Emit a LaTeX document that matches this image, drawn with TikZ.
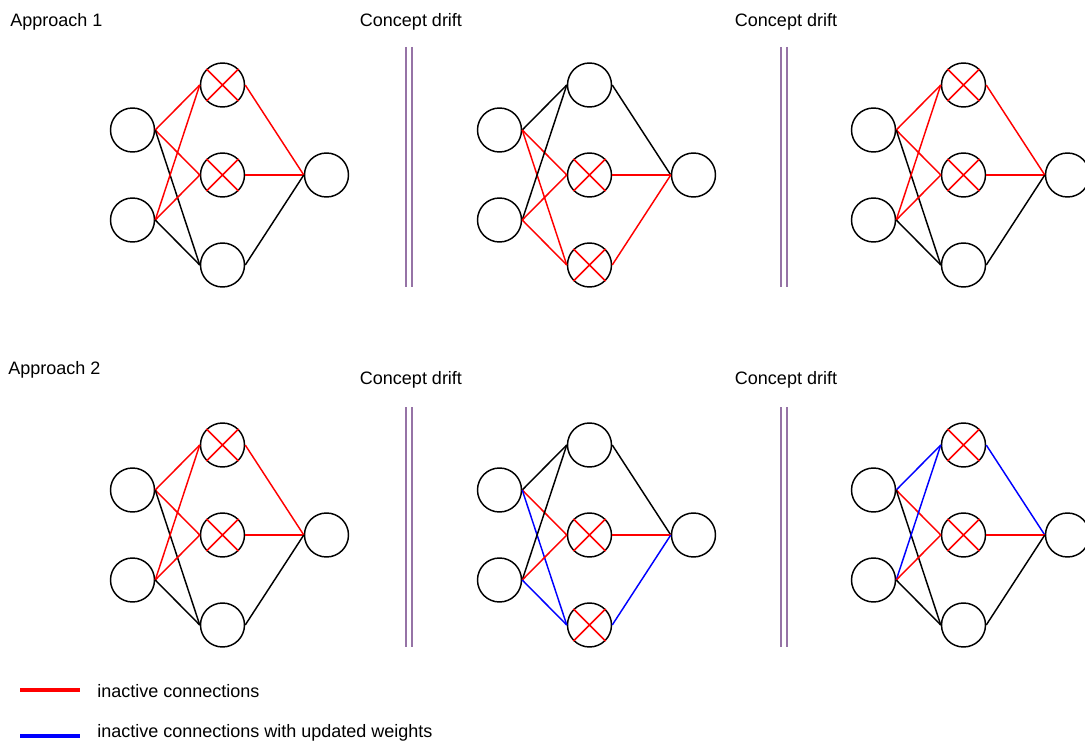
\documentclass[tikz,border=0pt]{standalone}
\usepackage{fontspec}
\setmainfont{Liberation Sans}
\definecolor{driftpurple}{HTML}{9673A6}

\tikzset{
    unit/.style={draw, circle, minimum size=33pt, inner sep=0pt, line width=1.1pt},
    live/.style={black, line width=1.1pt},
    dead/.style={red, line width=1.1pt},
    upd/.style={blue, line width=1.1pt},
    txt/.style={inner sep=0pt, font=\fontsize{13.5}{16}\selectfont},
    key/.style={line width=3pt},
}

% one small network: name, x of inputs, y of middle
\newcommand{\mlp}[3]{%
    \node[unit] (#1i1) at (#2, #3-45) {};
    \node[unit] (#1i2) at (#2, #3+45) {};
    \node[unit] (#1h1) at (#2+90, #3-90) {};
    \node[unit] (#1h2) at (#2+90, #3) {};
    \node[unit] (#1h3) at (#2+90, #3+90) {};
    \node[unit] (#1o) at (#2+194, #3) {};
}
\newcommand{\dropped}[1]{\draw[dead] (#1.45) -- (#1.225) (#1.135) -- (#1.-45);}
\newcommand{\drift}[2]{%
    \draw[driftpurple, line width=1.3pt] (#1-3, #2) -- (#1-3, #2+240);
    \draw[driftpurple, line width=1.3pt] (#1+3, #2) -- (#1+3, #2+240);
}

\begin{document}
\begin{tikzpicture}[x=0.75pt, y=-0.75pt]
    \useasboundingbox (0,0) rectangle (1085,742);

    % titles
    \node[txt, anchor=west] (app1) at (10, 22) {Approach 1};
    \node[txt, anchor=west] (app2) at (8, 370) {Approach 2};
    \node[txt] (cd1) at (411, 22) {Concept drift};
    \node[txt] (cd2) at (786, 22) {Concept drift};
    \node[txt] (cd3) at (411, 380) {Concept drift};
    \node[txt] (cd4) at (786, 380) {Concept drift};

    % drift separators
    \drift{409}{47}
    \drift{784}{47}
    \drift{409}{407}
    \drift{784}{407}

    % approach 1
    \mlp{A1}{132.5}{175}
    \mlp{A2}{499.5}{175}
    \mlp{A3}{873.5}{175}
    \foreach \s/\t/\k in {i1/h1/dead, i1/h2/dead, i1/h3/live, i2/h1/dead, i2/h2/dead, i2/h3/live, h1/o/dead, h2/o/dead, h3/o/live}
        \draw[\k] (A1\s.east) -- (A1\t.west);
    \foreach \s/\t/\k in {i1/h1/live, i1/h2/dead, i1/h3/dead, i2/h1/live, i2/h2/dead, i2/h3/dead, h1/o/live, h2/o/dead, h3/o/dead}
        \draw[\k] (A2\s.east) -- (A2\t.west);
    \foreach \s/\t/\k in {i1/h1/dead, i1/h2/dead, i1/h3/live, i2/h1/dead, i2/h2/dead, i2/h3/live, h1/o/dead, h2/o/dead, h3/o/live}
        \draw[\k] (A3\s.east) -- (A3\t.west);
    \dropped{A1h1} \dropped{A1h2}
    \dropped{A2h2} \dropped{A2h3}
    \dropped{A3h1} \dropped{A3h2}

    % approach 2
    \mlp{B1}{132.5}{535}
    \mlp{B2}{499.5}{535}
    \mlp{B3}{873.5}{535}
    \foreach \s/\t/\k in {i1/h1/dead, i1/h2/dead, i1/h3/live, i2/h1/dead, i2/h2/dead, i2/h3/live, h1/o/dead, h2/o/dead, h3/o/live}
        \draw[\k] (B1\s.east) -- (B1\t.west);
    \foreach \s/\t/\k in {i1/h1/live, i1/h2/dead, i1/h3/upd, i2/h1/live, i2/h2/dead, i2/h3/upd, h1/o/live, h2/o/dead, h3/o/upd}
        \draw[\k] (B2\s.east) -- (B2\t.west);
    \foreach \s/\t/\k in {i1/h1/upd, i1/h2/dead, i1/h3/live, i2/h1/upd, i2/h2/dead, i2/h3/live, h1/o/upd, h2/o/dead, h3/o/live}
        \draw[\k] (B3\s.east) -- (B3\t.west);
    \dropped{B1h1} \dropped{B1h2}
    \dropped{B2h2} \dropped{B2h3}
    \dropped{B3h1} \dropped{B3h2}

    % legend
    \coordinate (r1) at (20, 690);
    \coordinate (r2) at (80, 690);
    \coordinate (b1) at (20, 736);
    \coordinate (b2) at (80, 736);
    \draw[key, red] (r1) -- (r2);
    \draw[key, blue] (b1) -- (b2);
    \node[txt, anchor=west] (lgred) at (97, 691) {inactive connections};
    \node[txt, anchor=west] (lgblue) at (97, 732.5) {inactive connections with updated weights};
\end{tikzpicture}
\end{document}
